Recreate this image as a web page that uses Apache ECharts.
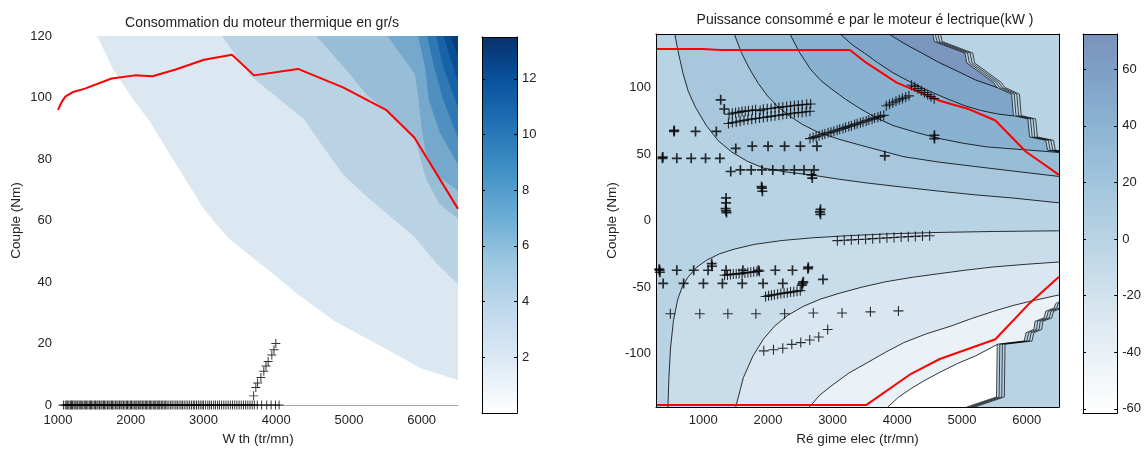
<!DOCTYPE html>
<html><head><meta charset="utf-8">
<script src="https://cdn.jsdelivr.net/npm/echarts@6/dist/echarts.min.js"></script>
<style>html,body{margin:0;padding:0;background:#fff}#c{width:1144px;height:451px}</style>
</head><body><div id="c"></div>
<script>
// ---------------- DATA ----------------
// Left panel: thermal engine fuel consumption (gr/s)
var leftXTicks = [1000, 2000, 3000, 4000, 5000, 6000];
var leftYTicks = [0, 20, 40, 60, 80, 100, 120];
var leftCbarRange = [0, 13.5];
var leftCbarTicks = [2, 4, 6, 8, 10, 12];
// filled-contour boundaries (speed, torque), from lowest level to highest
var lvl1 = [[1540,120],[1760,109],[2030,99.5],[2250,92.6],[2570,80.3],[2990,64.3],[3150,59.5],[3350,54.2],[3600,49.4],[3940,43],[4290,36.1],[4820,27],[5540,17.9],[5980,12.1],[6500,8.1]];
var lvl2 = [[3255,120],[3650,107],[4040,99.5],[4380,93],[4630,84.6],[4920,75],[5260,67.5],[5560,61.5],[5900,54.7],[6200,46.2],[6500,39.3]];
var lvl3 = [[4555,120],[4920,110.2],[5260,100.6],[5540,95.3],[5910,86.7],[6054,73.9],[6244,65.4],[6500,60.6]];
var lvl4 = [[5533,120],[5909,107.5],[5957,99.5],[6000,90],[6060,82],[6200,75],[6500,69.7]];
var lvl5 = [[5950,120],[6047,110],[6096,99.5],[6245,88.9],[6500,78.2]];
var lvl6 = [[6074,120],[6170,110],[6294,99.5],[6500,86.7]];
var lvl7 = [[6200,120],[6294,110],[6500,96.8]];
var lvl8 = [[6300,120],[6500,105]];
var lvl9 = [[6400,120],[6500,113]];
// max torque curve (red)
var leftRed = [[1000,96],[1050,98.5],[1100,100.3],[1197,101.7],[1369,102.9],[1736,106.2],[2055,107.2],[2300,106.9],[2618,109.1],[3008,112.3],[3393,113.9],[3695,107.2],[4300,109.3],[4919,103.3],[5510,96],[5902,86.9],[6500,63.8]];
// operating points
var leftZeroX = [1075,1100,1120,1135,1150,1170,1185,1200,1220,1235,1250,1270,1290,1305,1320,1340,1360,1375,1390,1410,1430,1445,1460,1480,1500,1515,1535,1550,1570,1590,1605,1625,1640,1660,1680,1700,1715,1735,1750,1770,1790,1810,1825,1845,1865,1880,1900,1920,1940,1955,1975,1995,2010,2030,2050,2070,2085,2105,2125,2140,2160,2180,2200,2215,2235,2255,2270,2290,2310,2330,2345,2365,2385,2400,2420,2440,2460,2480,2500,2525,2550,2570,2595,2620,2640,2665,2690,2710,2735,2760,2785,2810,2835,2860,2880,2905,2930,2955,2980,3000,3030,3060,3085,3110,3140,3165,3195,3220,3250,3280,3310,3340,3370,3400,3430,3460,3490,3520,3550,3580,3610,3640,3670,3700,3740,3800,3870,3930,3990,4040];
var leftRise = [[3690,3],[3720,5.7],[3745,7.2],[3790,9],[3830,11],[3860,12.7],[3890,14.2],[3940,16.3],[3970,18],[3995,20]];

// Right panel: electric motor power (kW)
var rightXTicks = [1000, 2000, 3000, 4000, 5000, 6000];
var rightYTicks = [-100, -50, 0, 50, 100];
var rightCbarRange = [-61.5, 72.5];
var rightCbarTicks = [-60, -40, -20, 0, 20, 40, 60];
// positive-power contours
var ctA = [[560,140],[620,125],[690,110],[769,97],[880,85],[1048,71.3],[1230,60],[1436,51.6],[1680,44.5],[1937,39.3],[2300,36.3],[2659,34.3],[3100,31],[3547,28.1],[4100,25],[4657,22],[5200,19.3],[5768,17],[6500,13.3]];
var ctB = [[1480,140],[1590,126],[1714,114],[1850,103],[1992,93.6],[2150,85.5],[2326,78.7],[2540,72],[2768,66.4],[3100,61],[3435,56.5],[3780,52],[4101,47.9],[4650,43.8],[5213,40.5],[5850,36.8],[6500,33.1]];
var ctC = [[2340,140],[2490,126],[2659,113.5],[2820,105],[2991,98.5],[3200,91],[3435,83.7],[3680,77],[3934,71.3],[4300,66],[4657,61.5],[5020,58],[5380,55.3],[6046,52.8],[6500,51.1]];
var ctD = [[3120,140],[3300,132],[3492,125.7],[3710,118],[3934,110.9],[4180,104.5],[4435,98.5],[4740,92],[5046,86.1],[5300,82.5],[5550,80],[5800,78.5]];
var ctE = [[3870,140],[4120,132.5],[4379,125.7],[4650,118.5],[4934,112],[5210,105.5],[5545,99.8]];
var stairU = [[4546,140],[4574,134.3],[5046,125.7],[5074,118.3],[5489,103.5],[5545,99.8],[5768,94.8],[5795,78.7],[6018,76.3],[6046,62.7],[6295,60.2],[6323,52.8],[6500,51.6]];
// negative-power contours
var ctF = [[454,-140],[470,-118],[493,-96.5],[540,-75],[604,-59.5],[680,-49],[769,-42.2],[900,-35],[1048,-29.9],[1250,-25],[1491,-21.3],[1800,-17.8],[2213,-15],[2700,-12.9],[3269,-11.3],[3900,-9.9],[4657,-8.9],[5500,-8.2],[6500,-7.7]];
var ctG = [[1502,-140],[1620,-118],[1770,-101.5],[1930,-89],[2102,-79.3],[2310,-71],[2547,-64.4],[2810,-59],[3102,-54.6],[3450,-50],[3824,-45.9],[4230,-42.6],[4657,-39.8],[5060,-37.2],[5489,-34.8],[6000,-32.8],[6500,-31.1]];
var ctH = [[2642,-140],[2800,-131],[2991,-123.7],[3250,-114.5],[3546,-106.4],[3820,-98.8],[4101,-91.6],[4450,-85],[4823,-79.3],[5150,-73.5],[5489,-68.1],[5770,-64],[6046,-60.7],[6500,-55.8]];
var ctI = [[3852,-140],[4020,-132.5],[4213,-126.1],[4430,-119.8],[4657,-113.9],[4930,-107.3],[5213,-101.5],[5545,-93]];
var stairL = [[5070,-140],[5534,-132.4],[5545,-92.8],[5962,-90.4],[5990,-84.2],[6112,-81.7],[6129,-75.6],[6268,-73.1],[6295,-68.1],[6424,-65.7],[6447,-62.4],[6500,-61]];
// torque limits (red)
var rightRedTop = [[270,128.8],[992,128.8],[1270,128],[3268,128],[3490,119.5],[3990,103.5],[4657,89.9],[5101,83.7],[5517,75.1],[5990,51.6],[6500,34.3]];
var rightRedBot = [[270,-138.5],[3518,-138.5],[4213,-115],[4657,-103.9],[5517,-89.1],[6046,-62],[6500,-42.2]];
// operating points (bold crosses)
var rightPtsBold = [[1270,90.6],[1325,83.7],[548,66.9],[552,67.6],[881,66.9],[1203,66.9],[370,46.7],[374,47.6],[592,46.7],[814,46.7],[1036,46.7],[1258,46.7],[1503,54.1],[1758,55.8],[2002,55.8],[2258,55.8],[2502,55.8],[2758,55.8],[1425,36.8],[1575,38],[1742,38],[1908,38],[2075,38],[2241,38],[2408,38],[2558,38],[2713,38],[2686,31.9],[2675,34.3],[1353,17],[1353,13.3],[1353,7.2],[1360,6],[1345,9],[1908,24.4],[1915,22],[1902,25.5],[2813,8.4],[2813,4.7],[2805,6.5],[4574,64],[4574,61.5],[3807,48.6],
  [325,-37.3],[330,-38.8],[320,-36.5],[592,-37.3],[853,-37.3],[1075,-37.3],[1353,-37.3],[1614,-37.3],[1853,-37.3],[2114,-37.3],[2380,-37.3],[2619,-36.1],[2625,-35],[1131,-32.4],[1136,-34.3],
  [381,-47.2],[697,-47.2],[1003,-47.2],[1297,-47.2],[1603,-47.2],[1925,-47.2],[2230,-47.2],[2536,-47.2],[2852,-44.2],[2547,-46],[2525,-48.5]];
// operating points (thin crosses)
var rightPtsThin = [[1400,79.8],[1450,80.5],[1500,80.9],[1550,81.2],[1600,81.9],[1650,82.1],[1700,82.4],[1760,82.7],[1810,83.2],[1880,82.5],[1930,83.5],[1990,83.9],[2050,84.1],[2110,84.6],[2170,84.9],[2230,85.3],[2290,85.6],[2350,86],[2410,86.3],[2470,86.6],[2530,86.9],[2600,87.2],[2660,87.5],
  [1390,72.8],[1450,73.5],[1510,74],[1570,74.6],[1630,75.2],[1690,75.7],[1750,76.1],[1810,76.6],[1870,77],[1930,77.3],[1990,77.8],[2050,78.2],[2110,78.6],[2170,79],[2230,79.5],[2290,79.9],[2350,80.2],[2410,80.7],[2470,81],[2530,81.3],[2590,81.7],[2650,82],
  [2650,61.5],[2700,62.3],[2745,63],[2790,63.6],[2840,64.4],[2880,65],[2930,65.8],[2975,66.3],[3020,67.1],[3070,67.8],[3110,68.5],[3160,69.1],[3200,69.9],[3250,70.6],[3290,71.2],[3340,72],[3380,72.7],[3430,73.4],[3470,74],[3520,74.8],[3560,75.5],[3610,76.1],[3650,76.9],[3700,77.5],[3740,78.2],[3790,78.9],
  [3830,86.2],[3880,87.3],[3930,88.4],[3980,89.5],[4030,90.6],[4080,91.6],[4130,92.5],[4180,93.6],
  [4220,101.5],[4270,100.5],[4320,99],[4370,97.5],[4420,96],[4470,94.5],[4520,93],[4570,91.5],
  [1330,-41],[1375,-40.8],[1420,-40.5],[1465,-40.2],[1510,-40],[1555,-39.8],[1600,-39.6],[1645,-39.3],[1690,-39],[1735,-38.8],[1780,-38.5],[1830,-38.2],[1870,-38],
  [1964,-57],[2010,-56.5],[2055,-56],[2100,-55.7],[2150,-55.3],[2200,-54.8],[2250,-54.5],[2300,-54.1],[2350,-53.7],[2400,-53.4],[2450,-53],[2500,-52.6],
  [492,-69.9],[947,-69.9],[1381,-69.9],[1814,-69.9],[2258,-69.9],[2702,-69.4],[3146,-69.4],[3585,-68.5],[4018,-67.8],
  [1936,-97.8],[2086,-97],[2230,-95.8],[2369,-92.9],[2508,-91.6],[2647,-89.6],[2786,-87.4],[2924,-81.8],
  [3074,-15.1],[3180,-14.8],[3290,-14.5],[3400,-14.2],[3510,-14],[3620,-13.6],[3730,-13.3],[3840,-13],[3950,-12.7],[4060,-12.4],[4170,-12.1],[4280,-11.9],[4390,-11.6],[4500,-11.4]];

// ---------------- STYLE ----------------
var TXT = '#222';
var FONT = '"Liberation Sans", Arial, sans-serif';
var PLUS_THIN = 'path://M4.45,0H5.55V10H4.45Z M0,4.45H10V5.55H0Z';
var PLUS_BOLD = 'path://M4.15,0H5.85V10H4.15Z M0,4.15H10V5.85H0Z';
var leftBandColors = ['#dce8f1','#b9d3e5','#97bdd7','#74a8cc','#4f90c0','#2f78b4','#1863a7','#0b4f93','#083c7a'];
var rightPosColors = ['#a8c7dd','#98bdd7','#89b2d1','#7fa5ca','#7b97c0'];
var rightNegColors = ['#c9dcea','#dae7f0','#ebf2f7','#ffffff'];
var ZERO_COLOR = '#b8d3e4';
var leftCbarStops = [{offset:0,color:'#ffffff'},{offset:0.13,color:'#deebf6'},{offset:0.26,color:'#c4daee'},{offset:0.4,color:'#9dc8e0'},{offset:0.52,color:'#6cadd5'},{offset:0.64,color:'#4292c6'},{offset:0.77,color:'#2171b5'},{offset:0.89,color:'#08519c'},{offset:1,color:'#08306b'}];
var rightCbarStops = [{offset:0,color:'#ffffff'},{offset:0.23,color:'#dfeaf2'},{offset:0.46,color:'#b8d3e4'},{offset:0.61,color:'#a2c4dc'},{offset:0.76,color:'#8cb3d2'},{offset:0.9,color:'#7f9fc6'},{offset:1,color:'#7a92bd'}];

function plain(v){ return String(v); }
function lab(o){ return Object.assign({color:TXT, fontSize:13, fontFamily:FONT}, o||{}); }
function boxAxis(grid, pos, range){
  return {gridIndex:grid, type:'value', position:pos, min:range[0], max:range[1],
    axisLine:{show:true, onZero:false, lineStyle:{color:'#000', width:1}}, axisTick:{show:false},
    axisLabel:{show:false}, splitLine:{show:false}, z:10};
}
function cbarAxis(grid, pos, range, ticks, labels){
  return {gridIndex:grid, type:'value', position:pos, min:range[0], max:range[1],
    axisLine:{show:true, onZero:false, lineStyle:{color:'#000', width:1}},
    axisTick:{show:true, inside:true, length:3, customValues:ticks, lineStyle:{color:'#000'}},
    axisLabel:{show:labels, customValues:ticks, formatter:plain, margin:5, color:TXT, fontSize:13, fontFamily:FONT},
    splitLine:{show:false}, z:10};
}
function bandLine(data, color, origin, xi, yi, withLine){
  return {type:'line', xAxisIndex:xi, yAxisIndex:yi, data:data, symbol:'none', silent:true,
    lineStyle: withLine ? {color:'#000', width:0.8} : {width:0, opacity:0},
    areaStyle:{origin:origin, color:color, opacity:1}, z:2};
}
function cbarSeries(xi, yi, range, stops){
  return {type:'custom', xAxisIndex:xi, yAxisIndex:yi, data:[[0, range[0]]], silent:true, z:2,
    renderItem:function(p, api){
      var p0 = api.coord([0, range[0]]), p1 = api.coord([1, range[1]]);
      return {type:'rect', shape:{x:p0[0], y:p1[1], width:p1[0]-p0[0], height:p0[1]-p1[1]},
        style:{fill:new echarts.graphic.LinearGradient(0,1,0,0, stops)}};
    }};
}
function stairLines(data){
  return {type:'custom', xAxisIndex:3, yAxisIndex:3, data:[[data[0][0], data[0][1]]], silent:true, z:4, clip:true,
    renderItem:function(p, api){
      var pts = data.map(function(d){ return api.coord(d); });
      var kids = [0, 2.6, 5.2, 7.8].map(function(o){
        return {type:'polyline', shape:{points:pts.map(function(q){ return [q[0]+o, q[1]]; })},
          style:{stroke:'#000', lineWidth:0.7, fill:null}};
      });
      return {type:'group', children:kids};
    }};
}

var series = [];
// left panel bands
[lvl1,lvl2,lvl3,lvl4,lvl5,lvl6,lvl7,lvl8,lvl9].forEach(function(d,i){
  series.push(bandLine(d, leftBandColors[i], 'end', 0, 0, false));
});
series.push({type:'line', xAxisIndex:0, yAxisIndex:0, data:leftRed, symbol:'none', silent:true,
  lineStyle:{color:'#ff0000', width:2}, z:5});
series.push({type:'scatter', xAxisIndex:0, yAxisIndex:0, clip:false, silent:true,
  data:leftZeroX.map(function(x){ return [x, 0]; }).concat(leftRise),
  symbol:PLUS_THIN, symbolSize:9, itemStyle:{color:'#000'}, z:6});
// left colour bar
series.push(cbarSeries(1, 2, leftCbarRange, leftCbarStops));

// right panel bands
[ctA,ctB,ctC,ctD,ctE].forEach(function(d,i){ series.push(bandLine(d, rightPosColors[i], 'end', 3, 3, true)); });
series.push(bandLine(stairU, ZERO_COLOR, 'end', 3, 3, false));
[ctF,ctG,ctH,ctI].forEach(function(d,i){ series.push(bandLine(d, rightNegColors[i], 'start', 3, 3, true)); });
series.push(bandLine(stairL, ZERO_COLOR, 'start', 3, 3, false));
series.push(stairLines(stairU));
series.push(stairLines(stairL));
series.push({type:'line', xAxisIndex:3, yAxisIndex:3, data:rightRedTop, symbol:'none', silent:true, lineStyle:{color:'#ff0000', width:2}, z:5});
series.push({type:'line', xAxisIndex:3, yAxisIndex:3, data:rightRedBot, symbol:'none', silent:true, lineStyle:{color:'#ff0000', width:2}, z:5});
series.push({type:'scatter', xAxisIndex:3, yAxisIndex:3, silent:true, data:rightPtsThin, symbol:PLUS_THIN, symbolSize:10, itemStyle:{color:'#000'}, z:6});
series.push({type:'scatter', xAxisIndex:3, yAxisIndex:3, silent:true, data:rightPtsBold, symbol:PLUS_BOLD, symbolSize:10, itemStyle:{color:'#000'}, z:6});
// right colour bar
series.push(cbarSeries(5, 6, rightCbarRange, rightCbarStops));

var option = {
  animation:false,
  backgroundColor:'#ffffff',
  textStyle:{fontFamily:FONT},
  title:[
    {text:'Consommation du moteur thermique en gr/s', left:257, top:11, textAlign:'center',
      textStyle:lab({fontWeight:'normal', fontSize:14})},
    {text:'Puissance consommé e par le moteur é lectrique(kW )', left:860, top:8, textAlign:'center',
      textStyle:lab({fontWeight:'normal', fontSize:14})}
  ],
  grid:[
    {left:58, top:36, width:400, height:375, containLabel:false},
    {left:482, top:37, width:35, height:376, containLabel:false},
    {left:656, top:34, width:403, height:378, containLabel:false, show:true, backgroundColor:ZERO_COLOR, borderWidth:0},
    {left:1083, top:34, width:35, height:379, containLabel:false}
  ],
  xAxis:[
    {gridIndex:0, type:'value', min:1000, max:6500,
      axisLine:{show:true, lineStyle:{color:'#a8a8a8', width:1}}, axisTick:{show:false}, splitLine:{show:false},
      axisLabel:{customValues:leftXTicks, formatter:plain, margin:9, color:TXT, fontSize:13, fontFamily:FONT},
      name:'W th (tr/mn)', nameLocation:'middle', nameGap:19, nameTextStyle:lab({fontSize:13.5})},
    boxAxis(1, 'bottom', [0,1]),
    boxAxis(1, 'top', [0,1]),
    {gridIndex:2, type:'value', position:'bottom', min:270, max:6500,
      axisLine:{show:true, onZero:false, lineStyle:{color:'#000', width:1}}, axisTick:{show:false}, splitLine:{show:false},
      axisLabel:{customValues:rightXTicks, formatter:plain, margin:7, color:TXT, fontSize:13, fontFamily:FONT},
      name:'Ré gime elec (tr/mn)', nameLocation:'middle', nameGap:17, nameTextStyle:lab({fontSize:13.5}), z:10},
    boxAxis(2, 'top', [270,6500]),
    boxAxis(3, 'bottom', [0,1]),
    boxAxis(3, 'top', [0,1])
  ],
  yAxis:[
    {gridIndex:0, type:'value', min:0, max:120,
      axisLine:{show:false}, axisTick:{show:false}, splitLine:{show:false},
      axisLabel:{customValues:leftYTicks, formatter:plain, margin:6, color:TXT, fontSize:13, fontFamily:FONT},
      name:'Couple (Nm)', nameLocation:'middle', nameGap:35, nameTextStyle:lab({fontSize:13.5})},
    cbarAxis(1, 'left', leftCbarRange, leftCbarTicks, false),
    cbarAxis(1, 'right', leftCbarRange, leftCbarTicks, true),
    {gridIndex:2, type:'value', position:'left', min:-140, max:140,
      axisLine:{show:true, onZero:false, lineStyle:{color:'#000', width:1}}, axisTick:{show:false}, splitLine:{show:false},
      axisLabel:{customValues:rightYTicks, formatter:plain, margin:5, color:TXT, fontSize:13, fontFamily:FONT},
      name:'Couple (Nm)', nameLocation:'middle', nameGap:37, nameTextStyle:lab({fontSize:13.5}), z:10},
    boxAxis(2, 'right', [-140,140]),
    cbarAxis(3, 'left', rightCbarRange, rightCbarTicks, false),
    cbarAxis(3, 'right', rightCbarRange, rightCbarTicks, true)
  ],
  series:series
};
var chart = echarts.init(document.getElementById('c'));
chart.setOption(option);
</script>
</body></html>
